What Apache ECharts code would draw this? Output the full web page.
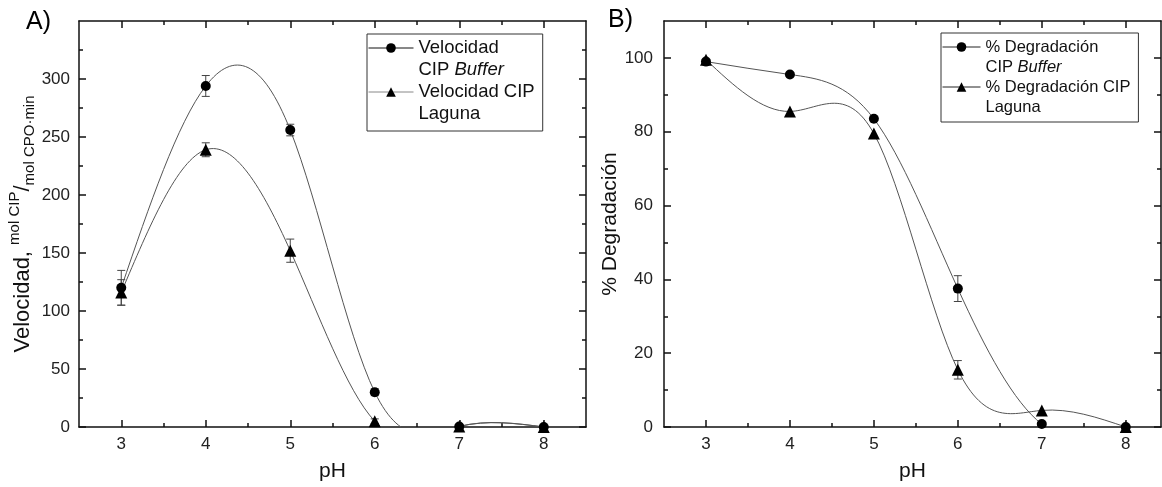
<!DOCTYPE html>
<html><head><meta charset="utf-8">
<script src="https://cdn.jsdelivr.net/npm/echarts@6/dist/echarts.min.js"></script>
<style>html,body{margin:0;padding:0;background:#fff}#c{width:1162px;height:487px}</style>
</head><body><div id="c"></div>
<script>
// ---------- data ----------
const phValues = [3, 4, 5, 6, 7, 8];
const xMajorTicks = [3, 4, 5, 6, 7, 8];
const xMinorTicks = [3.5, 4.5, 5.5, 6.5, 7.5];

const velBuffer     = [120, 294, 256, 30, 0.5, 0];
const velBufferErr  = [15, 9, 5, 3, 0, 0];
const velLaguna     = [116, 239, 152, 5, 0.5, 0];
const velLagunaErr  = [11, 6, 10, 2, 0, 0];
const velYMajor = [0, 50, 100, 150, 200, 250, 300];
const velYMinor = [25, 75, 125, 175, 225, 275, 325];

const degBuffer     = [99, 95.5, 83.5, 37.5, 0.8, 0];
const degBufferErr  = [0, 0, 0, 3.5, 0, 0];
const degLaguna     = [99.5, 85.5, 79.5, 15.5, 4.5, 0];
const degLagunaErr  = [0, 0, 0, 2.5, 0, 0];
const degYMajor = [0, 20, 40, 60, 80, 100];
const degYMinor = [10, 30, 50, 70, 90];

const nameVB = 'Velocidad\nCIP Buffer';
const nameVL = 'Velocidad CIP\nLaguna';
const nameDB = '% Degradación\nCIP Buffer';
const nameDL = '% Degradación CIP\nLaguna';

// ---------- styling helpers ----------
const FONT = 'Liberation Sans, Arial, sans-serif';
const AX = '#111';
const CURVE = '#555';

function xAxes(grid, max) {
  const base = {type: 'value', gridIndex: grid, min: 2.5, max: max, splitLine: {show: false}};
  const line = {show: true, onZero: false, lineStyle: {color: AX, width: 1.5}};
  const noLine = {show: false, onZero: false};
  const major = {show: true, inside: true, length: 7, customValues: xMajorTicks, lineStyle: {color: AX, width: 1.5}};
  const minor = {show: true, inside: true, length: 4, customValues: xMinorTicks, lineStyle: {color: AX, width: 1.5}};
  return [
    Object.assign({}, base, {position: 'bottom', axisLine: line, axisTick: major,
      name: 'pH', nameLocation: 'middle', nameGap: 34,
      nameTextStyle: {fontSize: 21, color: AX, fontFamily: FONT},
      axisLabel: {show: true, customValues: xMajorTicks, fontSize: 17, color: '#222', margin: 9, fontFamily: FONT}}),
    Object.assign({}, base, {position: 'bottom', axisLine: noLine, axisTick: minor, axisLabel: {show: false}}),
    Object.assign({}, base, {position: 'top', axisLine: line, axisTick: major, axisLabel: {show: false}}),
    Object.assign({}, base, {position: 'top', axisLine: noLine, axisTick: minor, axisLabel: {show: false}})
  ];
}
function yAxes(grid, max, majors, minors, name, nameStyle, nameGap, labelMargin) {
  const base = {type: 'value', gridIndex: grid, min: 0, max: max, splitLine: {show: false}};
  const line = {show: true, onZero: false, lineStyle: {color: AX, width: 1.5}};
  const noLine = {show: false, onZero: false};
  const major = {show: true, inside: true, length: 7, customValues: majors, lineStyle: {color: AX, width: 1.5}};
  const minor = {show: true, inside: true, length: 4, customValues: minors, lineStyle: {color: AX, width: 1.5}};
  return [
    Object.assign({}, base, {position: 'left', axisLine: line, axisTick: major,
      name: name, nameLocation: 'middle', nameGap: nameGap, nameRotate: 90, nameTextStyle: nameStyle,
      axisLabel: {show: true, customValues: majors, fontSize: 17, color: '#222', margin: labelMargin, fontFamily: FONT}}),
    Object.assign({}, base, {position: 'left', axisLine: noLine, axisTick: minor, axisLabel: {show: false}}),
    Object.assign({}, base, {position: 'right', axisLine: line, axisTick: major, axisLabel: {show: false}}),
    Object.assign({}, base, {position: 'right', axisLine: noLine, axisTick: minor, axisLabel: {show: false}})
  ];
}
function pairs(vals) { return phValues.map((p, i) => [p, vals[i]]); }

// natural cubic spline slopes at the knots (used only to shape the connecting curve)
function splineSlopes(xs, ys) {
  const n = xs.length, h = [], M = new Array(n).fill(0);
  for (let i = 0; i < n - 1; i++) h[i] = xs[i + 1] - xs[i];
  const a = [], b = [], c = [], r = [];
  for (let i = 1; i < n - 1; i++) {
    a.push(h[i - 1]); b.push(2 * (h[i - 1] + h[i])); c.push(h[i]);
    r.push(6 * ((ys[i + 1] - ys[i]) / h[i] - (ys[i] - ys[i - 1]) / h[i - 1]));
  }
  const m = b.length;
  for (let i = 1; i < m; i++) { const w = a[i] / b[i - 1]; b[i] -= w * c[i - 1]; r[i] -= w * r[i - 1]; }
  const sol = new Array(m);
  for (let i = m - 1; i >= 0; i--) sol[i] = (r[i] - (i < m - 1 ? c[i] * sol[i + 1] : 0)) / b[i];
  for (let i = 0; i < m; i++) M[i + 1] = sol[i];
  const d = [];
  for (let i = 0; i < n - 1; i++) d[i] = (ys[i + 1] - ys[i]) / h[i] - h[i] * (2 * M[i] + M[i + 1]) / 6;
  d[n - 1] = (ys[n - 1] - ys[n - 2]) / h[n - 2] + h[n - 2] * (M[n - 2] + 2 * M[n - 1]) / 6;
  return d;
}
function curveSeries(xi, yi, vals) {
  const d = splineSlopes(phValues, vals);
  const segs = [];
  for (let i = 0; i < phValues.length - 1; i++) segs.push([phValues[i], vals[i], phValues[i + 1], vals[i + 1], d[i], d[i + 1]]);
  return {type: 'custom', xAxisIndex: xi, yAxisIndex: yi, silent: true, clip: true, z: 1, animation: false,
    encode: {x: [0, 2], y: [1, 3]}, data: segs,
    renderItem: function (params, api) {
      const x0 = api.value(0), y0 = api.value(1), x1 = api.value(2), y1 = api.value(3), d0 = api.value(4), d1 = api.value(5);
      const hh = (x1 - x0) / 3;
      const p0 = api.coord([x0, y0]), p3 = api.coord([x1, y1]);
      const c1 = api.coord([x0 + hh, y0 + d0 * hh]), c2 = api.coord([x1 - hh, y1 - d1 * hh]);
      return {type: 'bezierCurve', shape: {x1: p0[0], y1: p0[1], x2: p3[0], y2: p3[1], cpx1: c1[0], cpy1: c1[1], cpx2: c2[0], cpy2: c2[1]},
        style: {stroke: CURVE, lineWidth: 1, fill: null}};
    }};
}
function markerSeries(name, xi, yi, vals, symbol, size) {
  return {type: 'line', name: name, xAxisIndex: xi, yAxisIndex: yi, data: pairs(vals),
    symbol: symbol, symbolSize: size, showAllSymbol: true,
    itemStyle: {color: '#000'}, lineStyle: {color: '#222', width: 1, opacity: 0}, z: 3, animation: false};
}
function errSeries(xi, yi, vals, errs) {
  return {type: 'custom', xAxisIndex: xi, yAxisIndex: yi, silent: true, z: 2, animation: false,
    encode: {x: 0, y: 1},
    data: phValues.map((p, i) => [p, vals[i], errs[i]]).filter(d => d[2] > 0),
    renderItem: function (params, api) {
      const x = api.value(0), v = api.value(1), e = api.value(2);
      const t = api.coord([x, v + e]), b = api.coord([x, v - e]);
      const w = 4, st = {stroke: '#444', lineWidth: 1};
      return {type: 'group', children: [
        {type: 'line', shape: {x1: t[0], y1: t[1], x2: b[0], y2: b[1]}, style: st},
        {type: 'line', shape: {x1: t[0] - w, y1: t[1], x2: t[0] + w, y2: t[1]}, style: st},
        {type: 'line', shape: {x1: b[0] - w, y1: b[1], x2: b[0] + w, y2: b[1]}, style: st}
      ]};
    }};
}
function legend(items, left, top, fs, lh, itemWidth, pad) {
  return {orient: 'vertical', left: left, top: top,
    data: items.map(it => ({name: it[0], lineStyle: {color: it[1], width: 1, opacity: 1}})),
    itemWidth: itemWidth, itemHeight: 12,
    itemGap: -lh, padding: pad, borderColor: '#333', borderWidth: 1, backgroundColor: '#fff',
    selectedMode: false,
    formatter: n => n.replace('Buffer', '{i|Buffer}'),
    textStyle: {fontSize: fs, lineHeight: lh, color: AX, fontFamily: FONT, padding: [lh, 0, 0, 0],
      rich: {i: {fontStyle: 'italic', fontSize: fs, lineHeight: lh, color: AX, fontFamily: FONT}}}};
}

const velName = '{a|Velocidad, }{s|mol CIP}{b|/}{u|mol CPO·min}';
const velNameStyle = {lineHeight: 30, color: AX, fontFamily: FONT, rich: {
  a: {fontSize: 22, color: AX, fontFamily: FONT},
  s: {fontSize: 15, color: AX, fontFamily: FONT, verticalAlign: 'top'},
  b: {fontSize: 22, color: AX, fontFamily: FONT},
  u: {fontSize: 15, color: AX, fontFamily: FONT, verticalAlign: 'bottom'}}};
const degNameStyle = {fontSize: 21, color: AX, fontFamily: FONT};

const option = {
  backgroundColor: '#fff',
  animation: false,
  title: [
    {text: 'A)', left: 26, top: 10, padding: 0, textStyle: {fontSize: 25, fontWeight: 'normal', color: '#000', fontFamily: FONT}},
    {text: 'B)', left: 608, top: 8, padding: 0, textStyle: {fontSize: 25, fontWeight: 'normal', color: '#000', fontFamily: FONT}}
  ],
  grid: [
    {left: 79, right: 576, top: 21, bottom: 58},
    {left: 664, right: 1, top: 21, bottom: 60}
  ],
  xAxis: [].concat(xAxes(0, 8.5), xAxes(1, 8.42)),
  yAxis: [].concat(
    yAxes(0, 350, velYMajor, velYMinor, velName, velNameStyle, 36, 9),
    yAxes(1, 110, degYMajor, degYMinor, '% Degradación', degNameStyle, 40, 11)),
  legend: [
    legend([[nameVB, '#111'], [nameVL, '#888']], 367, 34, 18.5, 22, 45, [-19, 8, 6, 1]),
    legend([[nameDB, '#222'], [nameDL, '#222']], 941, 33, 16.5, 20, 38, [-16, 8, 5, 1])
  ],
  series: [
    curveSeries(0, 0, velBuffer),
    curveSeries(0, 0, velLaguna),
    errSeries(0, 0, velBuffer, velBufferErr),
    errSeries(0, 0, velLaguna, velLagunaErr),
    markerSeries(nameVB, 0, 0, velBuffer, 'circle', 10),
    markerSeries(nameVL, 0, 0, velLaguna, 'triangle', 12),
    curveSeries(4, 4, degBuffer),
    curveSeries(4, 4, degLaguna),
    errSeries(4, 4, degBuffer, degBufferErr),
    errSeries(4, 4, degLaguna, degLagunaErr),
    markerSeries(nameDB, 4, 4, degBuffer, 'circle', 10),
    markerSeries(nameDL, 4, 4, degLaguna, 'triangle', 12)
  ]
};
const chart = echarts.init(document.getElementById('c'), null, {renderer: 'canvas'});
chart.setOption(option);
</script>
</body></html>
